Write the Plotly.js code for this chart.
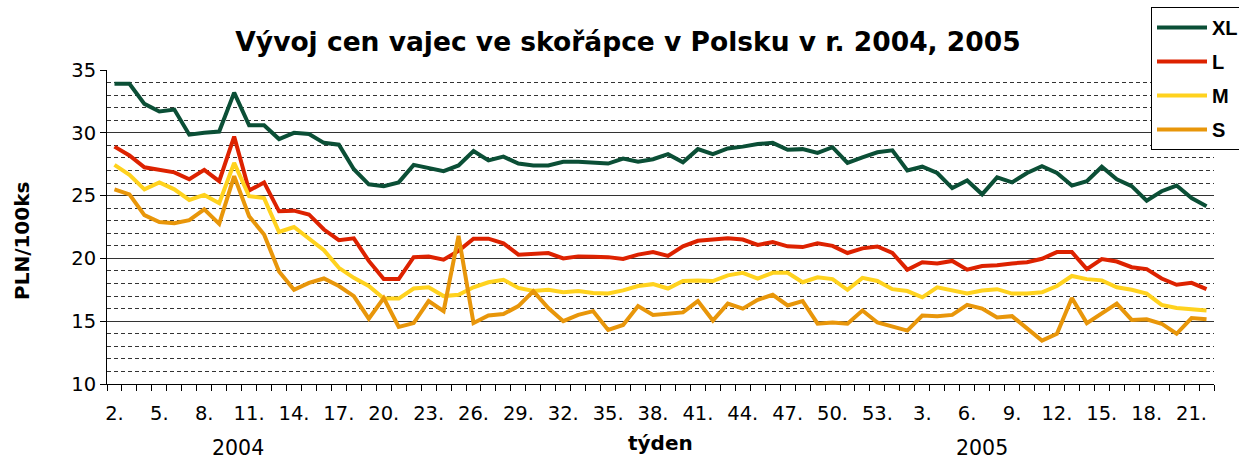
<!DOCTYPE html>
<html><head><meta charset="utf-8">
<script src="https://cdn.plot.ly/plotly-3.0.1.min.js"></script>
<style>html,body{margin:0;padding:0;background:#fff}#chart{width:1239px;height:461px}</style>
</head><body><div id="chart"></div>
<script>
// weeks: 2004 wk 2..53, 2005 wk 1..22
const weeks2004 = Array.from({length:52},(_,k)=>k+2);
const weeks2005 = Array.from({length:22},(_,k)=>k+1);
const weekLabels = weeks2004.map(w=>w+'.').concat(weeks2005.map(w=>w+'.'));
const catIndex = weekLabels.map((_,i)=>i);

const seriesNames = ['XL','L','M','S'];
const seriesColors = ['#0b4f36','#dd2200','#ffd21e','#e8960a'];

const XL = [33.9,33.9,32.3,31.7,31.85,29.85,30.0,30.1,33.2,30.6,30.6,29.5,30.0,29.9,29.2,29.05,27.1,25.9,25.75,26.05,27.45,27.2,26.95,27.4,
  28.55,27.8,28.1,27.55,27.4,27.4,27.7,27.7,27.6,27.55,27.95,27.7,27.9,28.3,27.65,28.7,28.3,28.75,28.9,29.1,29.2,28.65,28.7,28.4,
  28.85,27.6,28.05,28.45,28.6,27.0,27.3,26.8,25.6,26.2,25.1,26.45,26.05,26.8,27.35,26.8,25.8,26.15,27.3,26.3,25.75,24.6,25.35,25.8,24.8,24.15];
const L = [28.9,28.2,27.25,27.05,26.85,26.3,27.05,26.15,29.7,25.4,26.05,23.75,23.8,23.5,22.3,21.45,21.6,19.8,18.35,18.35,20.1,20.15,19.9,20.6,
  21.57,21.57,21.2,20.3,20.38,20.43,20.0,20.16,20.14,20.1,19.95,20.3,20.5,20.2,20.96,21.4,21.5,21.6,21.5,21.07,21.3,20.96,20.9,21.2,
  21.0,20.43,20.8,20.95,20.43,19.1,19.7,19.6,19.8,19.1,19.4,19.45,19.6,19.7,19.97,20.5,20.5,19.15,19.95,19.75,19.3,19.15,18.4,17.9,18.05,17.55];
const M = [27.45,26.65,25.5,26.05,25.5,24.65,25.05,24.4,27.6,24.95,24.8,22.1,22.5,21.55,20.65,19.25,18.45,17.8,16.8,16.8,17.6,17.7,17.0,17.1,
  17.7,18.1,18.3,17.65,17.4,17.5,17.3,17.4,17.25,17.2,17.45,17.8,17.95,17.6,18.2,18.25,18.2,18.65,18.85,18.4,18.85,18.85,18.1,18.5,
  18.35,17.5,18.45,18.2,17.55,17.4,16.9,17.7,17.45,17.2,17.45,17.55,17.2,17.2,17.3,17.8,18.6,18.35,18.25,17.7,17.5,17.2,16.3,16.05,15.95,15.85];
const S = [25.5,25.1,23.45,22.9,22.8,23.05,23.9,22.75,26.55,23.35,21.9,18.95,17.5,18.05,18.4,17.8,17.0,15.2,16.85,14.55,14.85,16.6,15.8,21.8,
  14.85,15.45,15.57,16.2,17.4,16.05,15.0,15.5,15.8,14.3,14.7,16.2,15.5,15.6,15.7,16.6,15.05,16.4,16.0,16.7,17.1,16.25,16.6,14.8,
  14.9,14.8,15.85,14.9,14.55,14.25,15.45,15.4,15.5,16.3,16.0,15.3,15.4,14.45,13.45,14.0,16.85,14.85,15.65,16.4,15.1,15.15,14.8,14.0,15.25,15.15];

const seriesData = [XL,L,M,S];
const tickIdx = catIndex.filter(i=>i%3===0);
const tickText = tickIdx.map(i=>weekLabels[i]);

const traces = seriesData.map((d,k)=>({
  x: catIndex, y: d, type:'scatter', mode:'lines', name: seriesNames[k],
  legendgroup: 'g'+k,
  line:{color: seriesColors[k], width:4}
}));

const tickFont = {family:'DejaVu Sans, Verdana, sans-serif', size:19.5, color:'#000'};
const W = 1239, H = 461, L0 = 107, R0 = 1214, T0 = 70, B0 = 384;
const px = x => (x - L0) / (R0 - L0);
const py = y => (B0 - y) / (B0 - T0);

const layout = {
  width:W, height:H,
  margin:{l:L0, r:W-R0, t:T0, b:H-B0, autoexpand:false},
  paper_bgcolor:'#fff', plot_bgcolor:'#fff',
  title:{text:'<b>Vývoj cen vajec ve skořápce v Polsku v r. 2004, 2005</b>',
    font:{family:'DejaVu Sans, Verdana, sans-serif', size:26.5, color:'#000'},
    x:(628)/W, xanchor:'center', y:1-42/H, yanchor:'middle'},
  showlegend:true,
  legend:{x:px(1151), y:py(7), xanchor:'left', yanchor:'top', bgcolor:'#fff',
    bordercolor:'#000', borderwidth:1, tracegroupgap:5, itemwidth:50,
    font:{family:'Liberation Sans, Arial, sans-serif', size:20, color:'#000', weight:'bold'}},
  xaxis:{
    range:[-0.5, catIndex.length-0.5], tickmode:'array', tickvals:tickIdx, ticktext:tickText,
    ticks:'', ticklabelstandoff:12, tickfont:tickFont,
    showgrid:false, zeroline:false, showline:true, linecolor:'#000', linewidth:1,
    minor:{tickmode:'linear', tick0:-0.5, dtick:1, ticks:'outside', ticklen:6, tickcolor:'#000', tickwidth:1, showgrid:false}
  },
  yaxis:{
    range:[10,35], dtick:5, tick0:10, tickfont:tickFont,
    ticks:'outside', ticklen:6, tickcolor:'#000',
    showline:true, linecolor:'#000', linewidth:1, zeroline:false,
    showgrid:true, gridcolor:'#333', gridwidth:1,
    minor:{dtick:1, showgrid:true, gridcolor:'#333', griddash:'4px,3px', gridwidth:1, ticks:''}
  },
  annotations:[
    {text:'<b>PLN/100ks</b>', xref:'paper', yref:'paper', x:px(22), y:py(241), xanchor:'center', yanchor:'middle', textangle:-90, showarrow:false,
      font:{family:'DejaVu Sans, Verdana, sans-serif', size:20, color:'#000'}},
    {text:'<b>týden</b>', xref:'paper', yref:'paper', x:px(660), y:py(443), xanchor:'center', yanchor:'middle', showarrow:false,
      font:{family:'DejaVu Sans, Verdana, sans-serif', size:20, color:'#000'}},
    {text:'2004', xref:'paper', yref:'paper', x:px(238), y:py(448), xanchor:'center', yanchor:'middle', showarrow:false,
      font:{family:'DejaVu Sans, Verdana, sans-serif', size:20.5, color:'#000'}},
    {text:'2005', xref:'paper', yref:'paper', x:px(982), y:py(448), xanchor:'center', yanchor:'middle', showarrow:false,
      font:{family:'DejaVu Sans, Verdana, sans-serif', size:20.5, color:'#000'}}
  ]
};
Plotly.newPlot('chart', traces, layout, {staticPlot:true, displayModeBar:false});
</script></body></html>
